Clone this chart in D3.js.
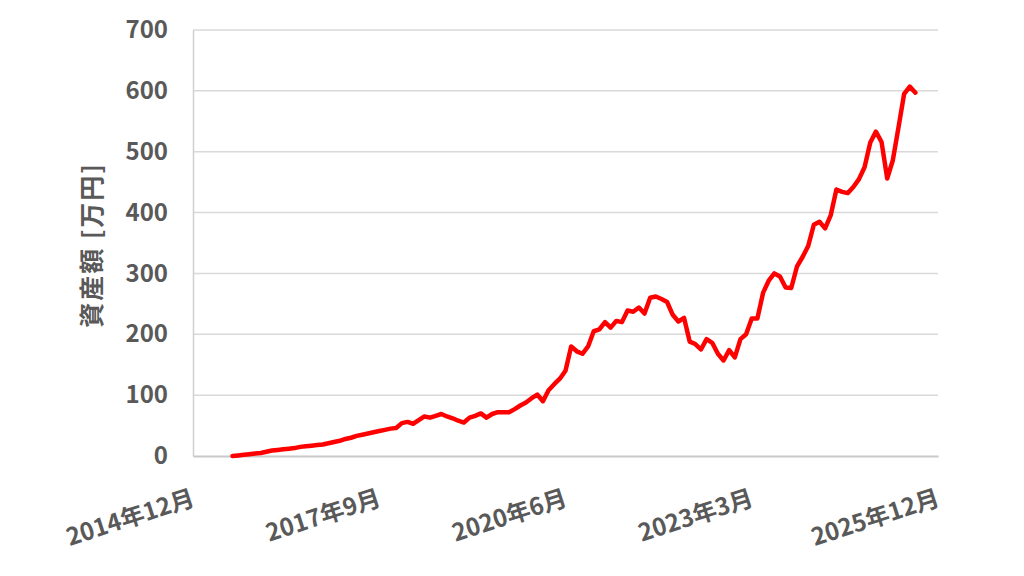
<!DOCTYPE html>
<html><head><meta charset="utf-8">
<script src="https://cdn.jsdelivr.net/npm/d3@7"></script>
<style>
body{margin:0;background:#fff;}
svg text{font-family:"Noto Sans CJK JP","Noto Sans",sans-serif;}
</style></head>
<body><svg id="c" width="1024" height="576"></svg>
<script>
// months since 2014-12 (index 0 = 2014年12月)
const startMonth = 7;
const assetValues = [
 0,1,2,3,4,5,7,9,10,11,12,13,15,16,17,18,19,21,23,25,28,30,33,35,37,39,41,43,45,46,
 54,56,53,59,65,63,66,69,65,62,58,55,63,66,70,63,69,72,72,72,77,83,88,95,101,90,
 108,118,127,140,180,172,168,180,205,208,220,211,222,220,239,237,244,234,260,262,258,253,
 232,221,227,188,184,175,192,186,168,157,174,162,192,200,226,226,268,288,300,295,277,276,
 311,327,345,380,385,374,396,438,434,432,442,455,475,515,533,516,456,486,540,595,607,597
];
const xTickMonths = [0,33,66,99,132];
const xTickLabels = ["2014年12月","2017年9月","2020年6月","2023年3月","2025年12月"];
const yTicks = [0,100,200,300,400,500,600,700];
const yTitle = "資産額 [万円]";

const svg = d3.select("#c");
const L=193, R=938, T=30, B=456;
const x = d3.scaleLinear().domain([0,132]).range([L,R]);
const y = d3.scaleLinear().domain([0,700]).range([B,T]);
const txt = "#595959";

// gridlines
svg.append("g").selectAll("line").data(yTicks.filter(d=>d>0)).join("line")
  .attr("x1",L).attr("x2",R).attr("y1",d=>y(d)).attr("y2",d=>y(d))
  .attr("stroke","#d9d9d9").attr("stroke-width",1.5);

// y axis
const ya = svg.append("g").attr("transform",`translate(${L},0)`)
  .call(d3.axisLeft(y).tickValues(yTicks).tickSize(0).tickPadding(25));
ya.select(".domain").attr("stroke","#d0d0d0").attr("stroke-width",1.5);
ya.selectAll("text").attr("fill",txt).attr("font-size",24).attr("font-weight","bold");

// x axis
const xa = svg.append("g").attr("transform",`translate(0,${B})`)
  .call(d3.axisBottom(x).tickValues(xTickMonths).tickSize(0).tickFormat((d,i)=>xTickLabels[i]));
xa.select(".domain").attr("stroke","#c8c8c8").attr("stroke-width",2);
xa.selectAll("text").attr("fill",txt).attr("font-size",24).attr("font-weight","bold")
  .attr("text-anchor","end").attr("dy","0.35em").attr("y",0)
  .attr("transform","translate(0,41) rotate(-18)");

// y title
svg.append("text").attr("transform",`translate(101,245) rotate(-90)`)
  .attr("text-anchor","middle").attr("fill",txt).attr("font-size",25).attr("font-weight","bold")
  .attr("letter-spacing",2)
  .text(yTitle);

// line
const pts = assetValues.map((v,i)=>({m:startMonth+i,v}));
svg.append("path").datum(pts)
  .attr("fill","none").attr("stroke","#ff0000").attr("stroke-width",4.5)
  .attr("stroke-linejoin","round").attr("stroke-linecap","round")
  .attr("d",d3.line().x(d=>x(d.m)).y(d=>y(d.v)));
</script></body></html>
